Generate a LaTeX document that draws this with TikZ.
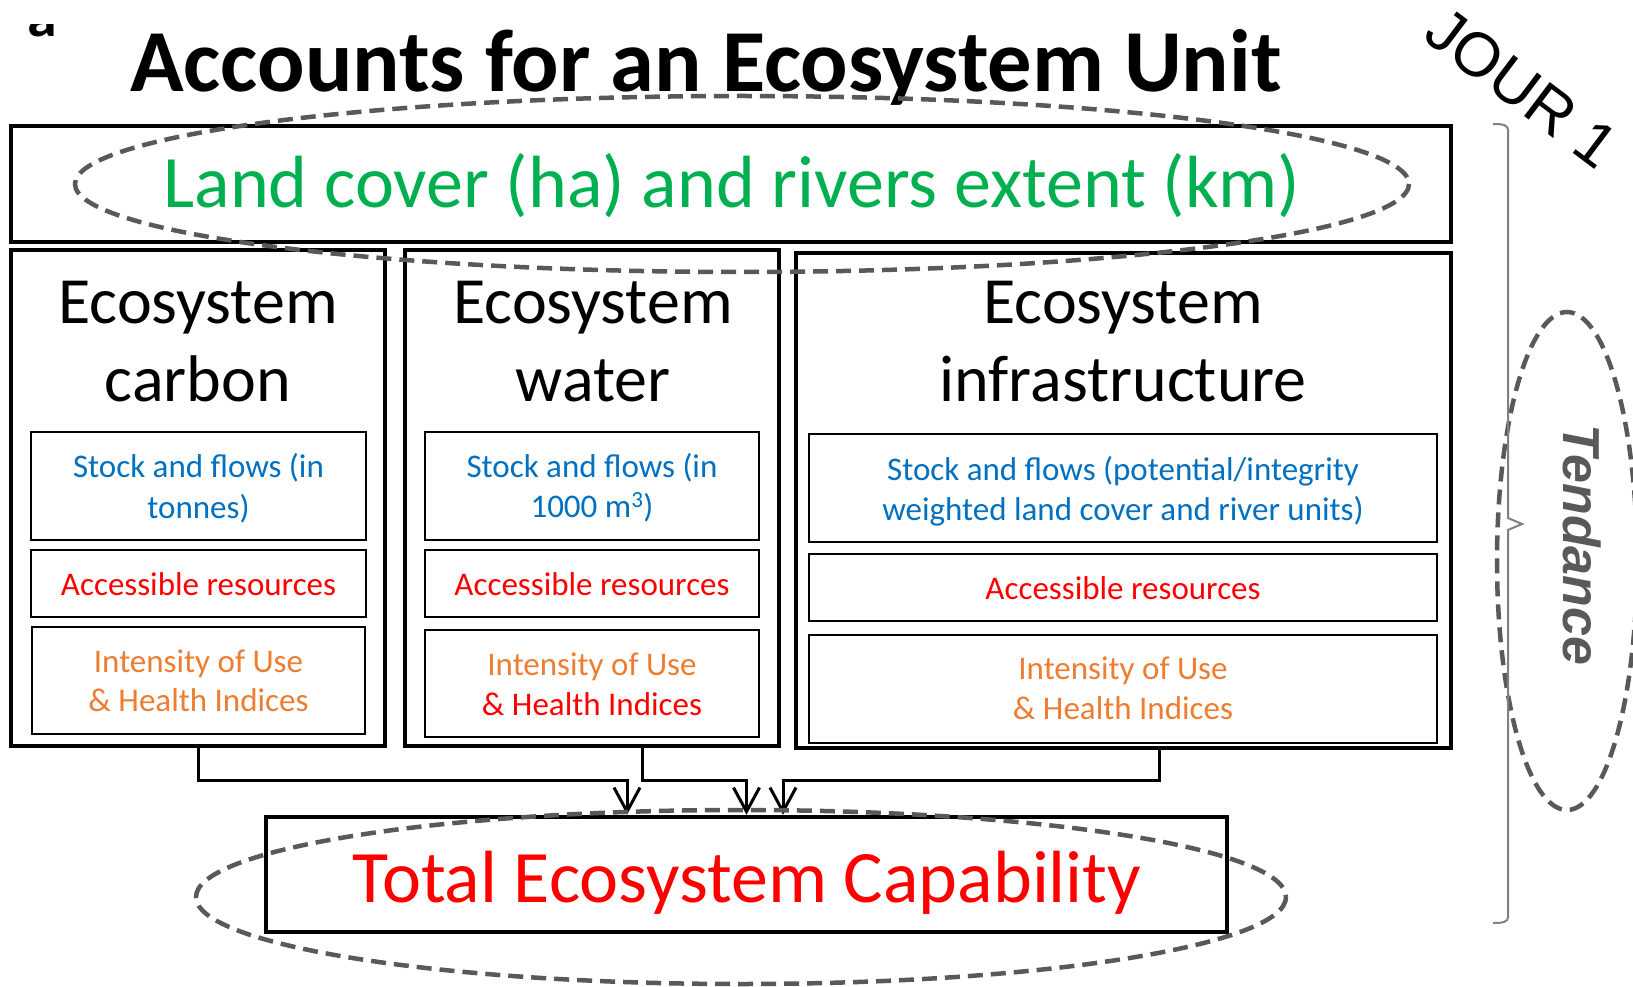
\documentclass[tikz,border=0pt]{standalone}
\usepackage{fontspec}
\setmainfont{Carlito}
\newfontfamily\arialf{Liberation Sans}
\usetikzlibrary{arrows.meta,calc}
\definecolor{cgreen}{HTML}{00B050}
\definecolor{cblue}{HTML}{0070C0}
\definecolor{cred}{HTML}{FF0000}
\definecolor{corange}{HTML}{ED7D31}
\definecolor{dgray}{HTML}{595959}
\definecolor{bgray}{HTML}{808080}
\begin{document}
\begin{tikzpicture}[x=1pt,y=-1pt,
  outerbox/.style={draw=black,line width=3.3pt,inner sep=0pt},
  innerbox/.style={draw=black,line width=2.8pt,inner sep=0pt},
  dashell/.style={draw=dgray,line width=4.5pt,dash pattern=on 15pt off 8pt},
  conn/.style={draw=black,line width=3pt,-{Straight Barb[length=24pt,width=26pt]}},
  lbl/.style={anchor=base,inner sep=0pt},
  head/.style={lbl,font=\fontsize{66}{66}\selectfont},
  small/.style={lbl,font=\fontsize{33}{33}\selectfont},
]
\useasboundingbox (0,0) rectangle (1633,987);
\fill[white] (0,0) rectangle (1633,987);

% clipped stray glyph top-left
\begin{scope}
  \clip (20,25) rectangle (70,40);
  \node[lbl,font=\bfseries\fontsize{60}{60}\selectfont] (stray) at (42,37) {a};
\end{scope}

% title
\node[lbl,font=\bfseries\fontsize{88.5}{88.5}\selectfont] (title) at (706,92) {Accounts for an Ecosystem Unit};

% top box
\node[outerbox,minimum width=1440pt,minimum height=116pt] (top) at (731,184) {};
\node[lbl,text=cgreen,font=\fontsize{74}{74}\selectfont] (toptext) at (732,208) {Land cover (ha) and rivers extent (km)};

% column boxes
\node[outerbox,minimum width=374pt,minimum height=496pt] (carbon) at (198,498) {};
\node[outerbox,minimum width=374pt,minimum height=496pt] (water) at (592,498) {};
\node[outerbox,minimum width=655pt,minimum height=495pt] (infra) at (1123.5,500.5) {};

% headings
\node[head] (ch1) at (198,323) {Ecosystem};
\node[head] (ch2) at (198,401) {carbon};
\node[head] (wh1) at (593,323) {Ecosystem};
\node[head] (wh2) at (593,401) {water};
\node[head] (ih1) at (1123,323) {Ecosystem};
\node[head] (ih2) at (1123,401) {infrastructure};

% carbon inner boxes
\node[innerbox,minimum width=335pt,minimum height=108pt] (cs) at (198.5,486) {};
\node[innerbox,minimum width=335pt,minimum height=67pt] (ca) at (198.5,583.5) {};
\node[innerbox,minimum width=333pt,minimum height=107pt] (ci) at (198.5,680.5) {};
\node[small,text=cblue] at (198.5,477) {Stock and flows (in};
\node[small,text=cblue] at (198.5,518) {tonnes)};
\node[small,text=cred] at (198.5,595) {Accessible resources};
\node[small,text=corange] at (198.5,672) {Intensity of Use};
\node[small,text=corange] at (198.5,711) {\& Health Indices};

% water inner boxes
\node[innerbox,minimum width=334pt,minimum height=108pt] (ws) at (592,486) {};
\node[innerbox,minimum width=334pt,minimum height=67pt] (wa) at (592,583.5) {};
\node[innerbox,minimum width=334pt,minimum height=107pt] (wi) at (592,683.5) {};
\node[small,text=cblue] at (592,477) {Stock and flows (in};
\node[small,text=cblue] at (592,517) {1000 m\textsuperscript{3})};
\node[small,text=cred] at (592,595) {Accessible resources};
\node[small,text=corange] at (592,675) {Intensity of Use};
\node[small,text=cred] at (592,715) {\& Health Indices};

% infrastructure inner boxes
\node[innerbox,minimum width=628pt,minimum height=108pt] (is) at (1123,488) {};
\node[innerbox,minimum width=628pt,minimum height=67pt] (ia) at (1123,587.5) {};
\node[innerbox,minimum width=628pt,minimum height=108pt] (ii) at (1123,689) {};
\node[small,text=cblue] at (1123,480) {Stock and flows (potential/integrity};
\node[small,text=cblue] at (1123,520) {weighted land cover and river units)};
\node[small,text=cred] at (1123,599) {Accessible resources};
\node[small,text=corange] at (1123,679) {Intensity of Use};
\node[small,text=corange] at (1123,719) {\& Health Indices};

% bottom box
\node[draw=black,line width=4.5pt,inner sep=0pt,minimum width=961pt,minimum height=115pt] (total) at (746.5,874.5) {};
\node[lbl,text=cred,font=\fontsize{74}{74}\selectfont] (totaltext) at (747,902) {Total Ecosystem Capability};

% connectors
\draw[conn] (carbon.south) -- ++(0,33) -| ($(total.north)+(-119.5,0)$);
\draw[conn] ($(water.south)+(50,0)$) -- ++(0,33) -| (total.north);
\draw[conn] ($(infra.south)+(35.5,0)$) -- ++(0,31) -| ($(total.north)+(36.5,0)$);

% dashed ellipses
\draw[dashell] (742,184) ellipse [x radius=667, y radius=88];
\draw[dashell] (741,897) ellipse [x radius=545, y radius=87];
\draw[dashell] (1567,561) ellipse [x radius=70, y radius=249];

% bracket
\draw[bgray,line width=2pt] (1493,124) .. controls (1503,124) and (1508,125) .. (1508,130)
  -- (1508,518) -- (1522,524) -- (1508,530) -- (1508,917)
  .. controls (1508,922) and (1503,923) .. (1493,923);

% Tendance
\node[inner sep=0pt,rotate=-90,text=dgray,font=\arialf\bfseries\itshape\fontsize{52}{52}\selectfont] (tend) at (1582,545) {Tendance};

% JOUR 1
\node[inner sep=0pt,rotate=-37,text=black,font=\arialf\fontsize{62}{62}\selectfont] (jour) at (1522,88) {JOUR 1};
\end{tikzpicture}
\end{document}
